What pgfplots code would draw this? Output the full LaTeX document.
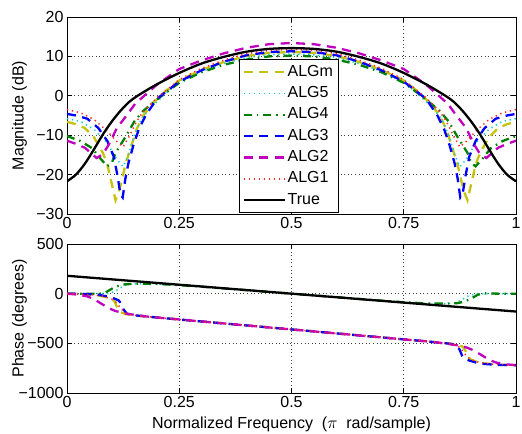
\documentclass[border=0pt]{standalone}
\usepackage{fontspec}
\setmainfont{Liberation Sans}
\usepackage{pgfplots}
\pgfplotsset{compat=1.18}
\definecolor{cY}{rgb}{0.78,0.76,0.05}
\definecolor{cC}{rgb}{0.1,0.8,0.8}
\definecolor{cG}{rgb}{0,0.5,0}
\definecolor{cB}{rgb}{0,0,1}
\definecolor{cM}{rgb}{0.75,0,0.75}
\definecolor{cR}{rgb}{1,0.15,0.15}
\pgfplotsset{
  sALGm/.style={cY, line width=2.3bp, dash pattern=on 9bp off 6.5bp},
  sALG5/.style={cC, line width=1.5bp, dash pattern=on 1.3bp off 3.7bp},
  sALG4/.style={cG, line width=2.3bp, dash pattern=on 8bp off 5bp on 1.5bp off 5bp},
  sALG3/.style={cB, line width=2.3bp, dash pattern=on 9bp off 6.5bp},
  sALG2/.style={cM, line width=2.3bp, dash pattern=on 9bp off 6.5bp},
  sALG1/.style={cR, line width=1.5bp, dash pattern=on 1.3bp off 3.7bp},
  sTrue/.style={black, line width=2.3bp, solid},
  myaxis/.style={
    scale only axis, width=449bp, xmin=0, xmax=1,
    axis line style={line width=0.8bp},
    tick align=inside, major tick length=5bp,
    tick style={black, line width=0.6bp},
    grid=major,
    grid style={black!75, line width=0.6bp, dash pattern=on 1bp off 2.6bp},
    xtick={0,0.25,0.5,0.75,1}, xticklabels={0,0.25,0.5,0.75,1},
    tick label style={font=\fontsize{16bp}{19bp}\selectfont},
    label style={font=\fontsize{16bp}{19bp}\selectfont},
    ylabel style={at={(axis description cs:-0.106,0.5)}, anchor=center},
    every axis plot/.append style={no marks},
  },
}
\begin{document}
\begin{tikzpicture}
\path[use as bounding box] (0,0) rectangle (522bp,434bp);
\begin{axis}[myaxis, height=197bp, at={(67bp,220bp)}, anchor=south west,
  ymin=-30, ymax=20, ytick={-30,-20,-10,0,10,20},
  yticklabels={−30,−20,−10,0,10,20},
  ylabel={Magnitude (dB)},
  legend cell align=left,
  legend style={at={(0.383,0.005)}, anchor=south west, fill=white, draw=black,
    line width=0.8bp, inner xsep=3bp, inner ysep=3.5bp, row sep=3.3bp,
    font=\fontsize{16bp}{19bp}\selectfont,
    nodes={inner sep=2bp, text height=11bp, text depth=3bp}},
  legend image code/.code={\draw[#1] (0bp,0bp) -- (41bp,0bp);},
]
\addplot[sALGm] coordinates {(0,-6.6)(0.02,-7.2)(0.04,-8.2)(0.06,-10.5)(0.08,-14.5)(0.09,-17.5)(0.1,-22.5)(0.108,-26.5)(0.115,-24.5)(0.122,-21.5)(0.13,-17.5)(0.141,-13.5)(0.155,-8.5)(0.17,-5)(0.19,-2)(0.22,1.2)(0.25,3.9)(0.3,6.6)(0.35,8.6)(0.4,10.1)(0.45,10.9)(0.5,11.1)(0.55,10.9)(0.6,10.1)(0.65,8.6)(0.7,6.6)(0.75,3.9)(0.78,1.2)(0.81,-2)(0.83,-5)(0.845,-8.5)(0.859,-13.5)(0.87,-17.5)(0.878,-21.5)(0.885,-24.5)(0.892,-26.5)(0.9,-22.5)(0.91,-17.5)(0.92,-14.5)(0.94,-10.5)(0.96,-8.2)(0.98,-7.2)(1,-6.6)};
\addlegendentry{ALGm}
\addplot[sALG5] coordinates {(0,-5.8)(0.03,-6.5)(0.06,-8.5)(0.09,-12)(0.11,-16)(0.125,-18)(0.135,-15.5)(0.15,-10)(0.165,-6)(0.18,-3.8)(0.2,-1.5)(0.22,0.6)(0.25,3.4)(0.3,6.2)(0.35,8.2)(0.4,9.7)(0.45,10.4)(0.5,10.6)(0.55,10.4)(0.6,9.7)(0.65,8.2)(0.7,6.2)(0.75,3.4)(0.78,0.6)(0.8,-1.5)(0.82,-3.8)(0.835,-6)(0.85,-10)(0.865,-15.5)(0.875,-18)(0.89,-16)(0.91,-12)(0.94,-8.5)(0.97,-6.5)(1,-5.8)};
\addlegendentry{ALG5}
\addplot[sALG4] coordinates {(0,-10.2)(0.03,-11.5)(0.056,-13.3)(0.075,-16)(0.09,-17.9)(0.1,-17)(0.108,-14.5)(0.12,-12.3)(0.13,-10.5)(0.15,-6.5)(0.17,-3.8)(0.2,-1)(0.22,0.8)(0.25,3.3)(0.3,6)(0.35,7.9)(0.4,9.2)(0.45,10)(0.5,10.2)(0.55,10)(0.6,9.2)(0.65,7.9)(0.7,6)(0.75,3.3)(0.78,0.8)(0.8,-1)(0.83,-3.8)(0.85,-6.5)(0.87,-10.5)(0.88,-12.3)(0.892,-14.5)(0.9,-17)(0.91,-17.9)(0.925,-16)(0.944,-13.3)(0.97,-11.5)(1,-10.2)};
\addlegendentry{ALG4}
\addplot[sALG3] coordinates {(0,-4.6)(0.02,-5)(0.045,-5.8)(0.07,-8.2)(0.09,-11.5)(0.104,-15.4)(0.112,-20)(0.119,-25)(0.124,-25.8)(0.13,-21)(0.137,-17)(0.148,-12.5)(0.16,-8.5)(0.175,-5)(0.2,-0.8)(0.22,1)(0.25,3.6)(0.3,6.5)(0.35,8.7)(0.4,10.3)(0.45,11.1)(0.5,11.3)(0.55,11.1)(0.6,10.3)(0.65,8.7)(0.7,6.5)(0.75,3.6)(0.78,1)(0.8,-0.8)(0.825,-5)(0.84,-8.5)(0.852,-12.5)(0.863,-17)(0.87,-21)(0.876,-25.8)(0.881,-25)(0.888,-20)(0.896,-15.4)(0.91,-11.5)(0.93,-8.2)(0.955,-5.8)(0.98,-5)(1,-4.6)};
\addlegendentry{ALG3}
\addplot[sALG2] coordinates {(0,-11.4)(0.02,-12.2)(0.04,-13.2)(0.066,-15.8)(0.08,-14.8)(0.093,-12.4)(0.111,-8.2)(0.134,-4.8)(0.152,-2)(0.2,2.8)(0.25,6.8)(0.3,9)(0.35,10.8)(0.4,12.2)(0.45,13.1)(0.5,13.4)(0.55,13.1)(0.6,12.2)(0.65,10.8)(0.7,9)(0.75,6.8)(0.8,2.8)(0.848,-2)(0.866,-4.8)(0.889,-8.2)(0.907,-12.4)(0.92,-14.8)(0.934,-15.8)(0.96,-13.2)(0.98,-12.2)(1,-11.4)};
\addlegendentry{ALG2}
\addplot[sALG1] coordinates {(0,-3.5)(0.03,-4.3)(0.06,-6)(0.09,-9)(0.11,-11.5)(0.125,-13)(0.14,-10)(0.155,-6.5)(0.17,-4)(0.2,-0.5)(0.22,1.3)(0.25,4.1)(0.3,7)(0.35,9.1)(0.4,10.7)(0.45,11.5)(0.5,11.8)(0.55,11.5)(0.6,10.7)(0.65,9.1)(0.7,7)(0.75,4.1)(0.78,1.3)(0.8,-0.5)(0.83,-4)(0.845,-6.5)(0.86,-10)(0.875,-13)(0.89,-11.5)(0.91,-9)(0.94,-6)(0.97,-4.3)(1,-3.5)};
\addlegendentry{ALG1}
\addplot[sTrue, smooth] coordinates {(0,-21.7)(0.02,-20)(0.04,-17.2)(0.06,-13.6)(0.08,-9.8)(0.1,-6.5)(0.12,-3.7)(0.14,-1.4)(0.16,0.2)(0.2,2.9)(0.25,5.8)(0.3,8.2)(0.35,9.9)(0.4,11.2)(0.45,11.9)(0.5,12.1)(0.55,11.9)(0.6,11.2)(0.65,9.9)(0.7,8.2)(0.75,5.8)(0.8,2.9)(0.84,0.2)(0.86,-1.4)(0.88,-3.7)(0.9,-6.5)(0.92,-9.8)(0.94,-13.6)(0.96,-17.2)(0.98,-20)(1,-21.7)};
\addlegendentry{True}
\end{axis}
\begin{axis}[myaxis, height=149bp, at={(67bp,41bp)}, anchor=south west,
  ymin=-1000, ymax=500, ytick={-1000,-500,0,500},
  yticklabels={−1000,−500,0,500},
  ylabel={Phase (degrees)},
  xlabel={Normalized Frequency\ \ ($\pi$\ \ rad/sample)},
  xlabel style={at={(axis description cs:0.5,-0.208)}, anchor=center},
]
\addplot[sALGm] coordinates {(0,0)(0.04,-5)(0.07,-18)(0.09,-38)(0.1,-55)(0.106,-80)(0.112,-140)(0.118,-185)(0.13,-205)(0.15,-220)(0.2,-240)(0.5,-360)(0.8,-480)(0.85,-500)(0.87,-515)(0.882,-535)(0.888,-580)(0.894,-640)(0.9,-665)(0.91,-682)(0.93,-702)(0.96,-715)(1,-720)};
\addplot[sALG5] coordinates {(0,0)(0.06,0)(0.09,3)(0.105,20)(0.12,60)(0.135,95)(0.16,100)(0.2,98)(0.25,86)(0.3,70)(0.4,35)(0.5,0)(0.6,-35)(0.7,-70)(0.75,-86)(0.8,-98)(0.84,-100)(0.865,-95)(0.88,-60)(0.895,-20)(0.91,-3)(0.94,0)(1,0)};
\addplot[sALG4] coordinates {(0,0)(0.04,0)(0.07,-3)(0.085,10)(0.1,50)(0.115,80)(0.13,95)(0.16,100)(0.2,98)(0.25,86)(0.3,70)(0.4,35)(0.5,0)(0.6,-35)(0.7,-70)(0.75,-86)(0.8,-98)(0.84,-100)(0.87,-95)(0.885,-80)(0.9,-50)(0.915,-10)(0.93,3)(0.96,0)(1,0)};
\addplot[sALG3] coordinates {(0,0)(0.04,-3)(0.07,-12)(0.09,-28)(0.105,-48)(0.115,-68)(0.12,-95)(0.126,-160)(0.133,-200)(0.145,-215)(0.2,-240)(0.5,-360)(0.8,-480)(0.855,-505)(0.867,-520)(0.874,-560)(0.88,-625)(0.885,-652)(0.895,-672)(0.91,-692)(0.93,-708)(0.96,-717)(1,-720)};
\addplot[sALG2] coordinates {(0,0)(0.02,-8)(0.045,-27)(0.06,-55)(0.078,-105)(0.095,-150)(0.108,-175)(0.13,-200)(0.174,-228)(0.2,-240)(0.5,-360)(0.8,-480)(0.826,-492)(0.87,-520)(0.892,-545)(0.905,-570)(0.922,-615)(0.94,-665)(0.955,-693)(0.98,-712)(1,-720)};
\addplot[sALG1] coordinates {(0,0)(0.05,-8)(0.08,-25)(0.1,-55)(0.11,-90)(0.12,-150)(0.13,-195)(0.145,-215)(0.2,-240)(0.5,-360)(0.8,-480)(0.855,-505)(0.87,-525)(0.88,-570)(0.89,-630)(0.9,-665)(0.92,-695)(0.95,-712)(1,-720)};
\addplot[sTrue] coordinates {(0,180)(1,-180)};
\end{axis}
\end{tikzpicture}
\end{document}
